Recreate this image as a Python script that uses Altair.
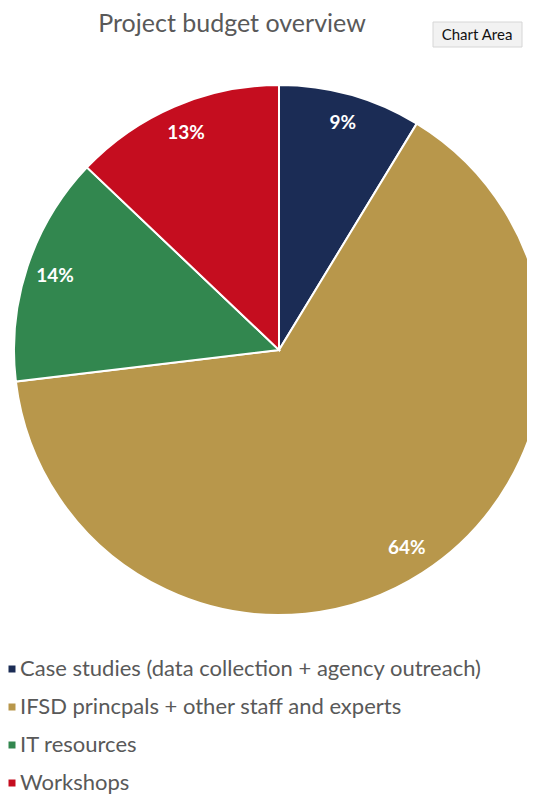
import altair as alt
import pandas as pd

title_text = "Project budget overview"
categories = [
    "Case studies (data collection + agency outreach)",
    "IFSD princpals + other staff and experts",
    "IT resources",
    "Workshops",
]
values = [8.7, 64.4, 14.0, 12.9]
pct_labels = ["9%", "64%", "14%", "13%"]
colors = ["#1b2c55", "#b8974b", "#32874f", "#c50d1f"]

df = pd.DataFrame({"category": categories, "value": values,
                   "label": pct_labels, "idx": list(range(len(categories)))})

CX, CY = 271, 342

color = alt.Color(
    "category:N",
    scale=alt.Scale(domain=categories, range=colors),
    sort=categories,
    legend=None,
)

base = alt.Chart(df).encode(
    theta=alt.Theta("value:Q", stack=True),
    order=alt.Order("idx:Q"),
    x=alt.value(CX), y=alt.value(CY),
)

pie = base.mark_arc(radius=265, stroke="white", strokeWidth=2).encode(color=color)
labels = base.mark_text(radius=236, font="Lato", fontSize=19,
                        fontWeight="bold", color="white").encode(text="label:N")

# legend drawn from the same data
leg_y = alt.Y("idx:Q", scale=alt.Scale(domain=[0, 3], range=[661, 775]), axis=None)
leg_sym = alt.Chart(df).mark_square(size=49, opacity=1).encode(
    x=alt.value(4), y=leg_y, color=color
)
leg_txt = alt.Chart(df).mark_text(
    font="Lato", fontSize=22, color="#595959", align="left", baseline="middle"
).encode(x=alt.value(12), y=leg_y, text="category:N")

title_layer = alt.Chart(pd.DataFrame({"t": [title_text]})).mark_text(
    font="Lato", fontSize=25, color="#595959", baseline="top", align="center"
).encode(text="t:N", x=alt.value(224), y=alt.value(4))

tip_df = pd.DataFrame({"t": ["Chart Area"]})
tip_box = alt.Chart(tip_df).mark_rect(
    fill="#f2f2f2", stroke="#d6d6d6", strokeWidth=1
).encode(x=alt.value(425), x2=alt.value(514), y=alt.value(14), y2=alt.value(39))
tip_text = alt.Chart(tip_df).mark_text(
    font="Lato", fontSize=15, color="#111111", align="center", baseline="middle"
).encode(text="t:N", x=alt.value(469), y=alt.value(27))

chart = alt.layer(pie, labels, leg_sym, leg_txt, title_layer, tip_box, tip_text).properties(
    width=519, height=787, autosize="none", padding=0
).configure_view(stroke=None)

chart.save("out.html", embed_options={"renderer": "svg", "actions": False})
